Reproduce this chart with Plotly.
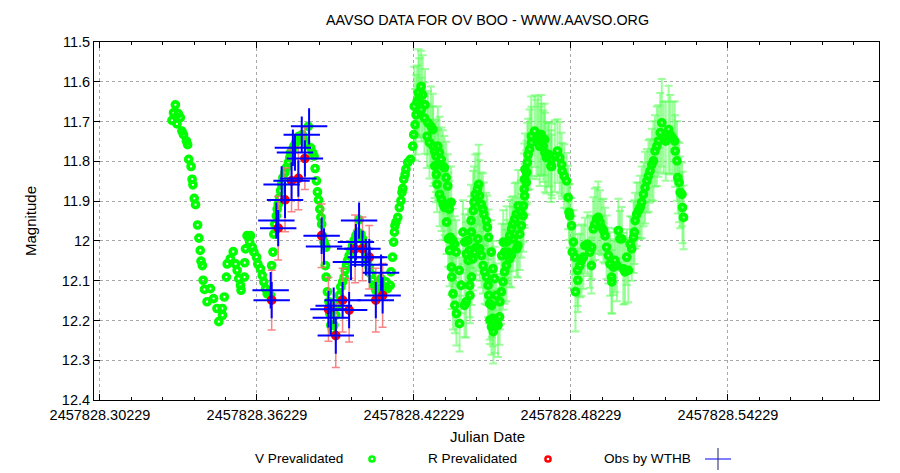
import plotly.graph_objects as go

JD0 = 2457828.0

# ---- V band, early part (small errors, not drawn) ----
V_EARLY_JD = [
0.3311,0.3304,0.3322,0.3298,0.3330,0.3317,0.3336,0.3342,0.3353,0.3358,
0.3362,0.3371,0.3375,0.3378,0.3383,0.3388,0.3396,0.3401,0.3406,0.3409,
0.3414,0.3417,0.3422,0.3432,0.3445,0.3457,0.3470,0.3477,0.3490,0.3491,
0.3498,0.3506,0.3509,0.3521,0.3532,0.3541,0.3547,0.3553,0.3560,0.3562,
0.3575,0.3576,0.3579,0.3585,0.3598,0.3595,0.3605,0.3611,0.3621,0.3626,
0.3636,0.3643,0.3649,0.3656,0.3662,0.3666,0.3675,0.3679,0.3684,0.3687,
0.3691,0.3697,0.3700,0.3704,0.3709,0.3713,0.3717,0.3722,0.3730,0.3735,
0.3743,0.3748,0.3751,0.3758,0.3764,0.3771,0.3777,0.3783,0.3796,0.3802,
0.3809,0.3819,0.3828,0.3835,0.3841,0.3845,0.3850,0.3854,0.3858,0.3863,
0.3867,0.3870,0.3873,0.3879,0.3883,0.3886,0.3884,0.3887,0.3892,0.3898,
0.3901,0.3905,0.3911,0.3917,0.3924,0.3931,0.3937,0.3943,0.3950,0.3956,
0.3960,0.3965,0.3969,0.3975,0.3982,0.3988,0.3994,0.4001,0.4007,0.4013,
0.4020,0.4026,0.4033,0.4039,0.4046,0.4052,0.4058,0.4065,0.4071,0.4077,
0.4084,0.4097,0.4103,0.4109,0.4116,0.4122,0.4132,0.4135,0.4141,0.4145,
0.4148,0.4150,0.4154,0.4161,0.4167,0.4173,0.4177,0.4180,0.4184,0.4189,
0.4192,0.4199,0.4209,0.4218,0.4222]
V_EARLY_MAG = [
11.658,11.678,11.680,11.697,11.690,11.706,11.724,11.733,11.749,11.758,
11.795,11.813,11.845,11.859,11.893,11.909,11.960,11.993,12.024,12.051,
12.062,12.099,12.122,12.153,12.120,12.145,12.170,12.203,12.170,12.187,
12.141,12.091,12.058,12.045,12.027,12.058,12.074,12.095,12.112,12.124,
12.091,12.055,12.020,11.987,11.987,12.003,12.016,12.028,12.041,12.058,
12.070,12.087,12.103,12.120,12.133,12.130,12.137,12.062,12.028,11.983,
11.958,11.937,11.920,11.908,11.891,11.874,11.858,11.841,11.828,11.816,
11.803,11.791,11.778,11.770,11.762,11.753,11.749,11.737,11.733,11.745,
11.753,11.712,11.766,11.778,11.787,11.818,11.849,11.877,11.897,11.920,
11.941,11.958,11.987,12.003,12.012,12.016,12.062,12.091,12.128,12.153,
12.183,12.212,12.224,12.212,12.187,12.162,12.137,12.116,12.103,12.091,
12.074,12.062,12.049,12.037,12.024,12.012,11.999,11.987,11.978,11.947,
11.983,11.995,12.012,12.033,12.049,12.066,12.083,12.099,12.112,12.124,
12.108,12.095,12.124,12.116,12.103,12.120,12.112,12.078,12.041,12.003,
11.978,11.962,11.953,11.941,11.916,11.899,11.878,11.868,11.845,11.833,
11.820,11.803,11.795,11.762,11.733]

# ---- V band, later part (large errors) ----
V_LATE_JD = [
0.4227,0.4231,0.4224,0.4235,0.4240,0.4243,0.4250,0.4256,0.4251,0.4265,
0.4263,0.4276,0.4288,0.4295,0.4273,0.4282,0.4296,0.4301,0.4307,0.4314,
0.4320,0.4302,0.4308,0.4315,0.4327,0.4333,0.4339,0.4346,0.4311,0.4321,
0.4328,0.4334,0.4340,0.4352,0.4353,0.4358,0.4365,0.4347,0.4354,0.4362,
0.4371,0.4378,0.4359,0.4384,0.4366,0.4367,0.4372,0.4379,0.4385,0.4397,
0.4396,0.4403,0.4416,0.4422,0.4410,0.4417,0.4429,0.4435,0.4423,0.4430,
0.4442,0.4448,0.4443,0.4436,0.4437,0.4441,0.4449,0.4452,0.4457,0.4465,
0.4470,0.4473,0.4480,0.4486,0.4490,0.4499,0.4503,0.4508,0.4467,0.4461,
0.4474,0.4454,0.4481,0.4487,0.4493,0.4500,0.4506,0.4509,0.4512,0.4518,
0.4525,0.4531,0.4513,0.4519,0.4526,0.4532,0.4520,0.4524,0.4544,0.4550,
0.4537,0.4551,0.4557,0.4563,0.4569,0.4576,0.4558,0.4570,0.4564,0.4577,
0.4582,0.4588,0.4595,0.4589,0.4596,0.4601,0.4602,0.4608,0.4614,0.4621,
0.4615,0.4620,0.4627,0.4633,0.4640,0.4631,0.4641,0.4646,0.4644,0.4652,
0.4645,0.4653,0.4647,0.4656,0.4659,0.4665,0.4672,0.4671,0.4684,0.4691,
0.4697,0.4710,0.4703,0.4717,0.4723,0.4729,0.4736,0.4746,0.4709,0.4722,
0.4738,0.4748,0.4749,0.4761,0.4771,0.4780,0.4787,0.4789,0.4797,0.4806,
0.4812,0.4815,0.4818,0.4825,0.4832,0.4828,0.4838,0.4848,0.4849,0.4840,
0.4857,0.4863,0.4870,0.4876,0.4886,0.4895,0.4902,0.4901,0.4908,0.4914,
0.4921,0.4927,0.4934,0.4940,0.4947,0.4953,0.4959,0.4966,0.4972,0.4978,
0.4979,0.4985,0.4991,0.4998,0.5004,0.5010,0.5017,0.5023,0.5029,0.5036,
0.5042,0.5049,0.5055,0.5062,0.5065,0.5068,0.5074,0.5081,0.5087,0.5093,
0.5100,0.5106,0.5113,0.5119,0.5125,0.5132,0.5138,0.5144,0.5151,0.5157,
0.5164,0.5170,0.5177,0.5185,0.5196,0.5202,0.5211,0.5219,0.5221,0.5228,
0.5231,0.5236,0.5240,0.5247,0.5249,0.5253]
V_LATE_MAG = [
11.708,11.683,11.662,11.649,11.628,11.641,11.612,11.633,11.670,11.658,
11.691,11.703,11.712,11.720,11.737,11.753,11.762,11.774,11.787,11.762,
11.778,11.812,11.833,11.808,11.795,11.812,11.816,11.841,11.858,11.883,
11.895,11.908,11.916,11.862,11.908,11.920,11.903,11.953,11.995,11.991,
11.999,12.008,12.024,12.028,12.066,12.091,12.133,12.162,12.183,12.208,
12.074,12.112,12.162,12.153,11.978,12.003,11.999,12.024,12.033,12.049,
11.978,12.045,12.091,12.112,12.137,11.949,11.924,11.903,11.883,11.870,
11.858,11.887,11.908,11.920,11.933,11.949,11.966,11.991,11.995,12.016,
12.020,12.028,12.037,12.062,12.078,12.091,12.112,12.137,12.158,12.028,
12.070,12.095,12.199,12.216,12.228,12.212,12.162,12.195,12.212,12.191,
12.137,12.153,12.128,12.103,12.078,12.062,12.037,12.028,12.003,12.003,
12.028,12.045,12.037,11.987,11.970,11.958,11.995,11.945,11.933,11.912,
12.020,12.012,11.983,11.962,11.937,11.928,11.912,11.887,11.870,11.853,
11.845,11.828,11.820,11.803,11.783,11.770,11.753,11.737,11.724,11.745,
11.737,11.745,11.762,11.762,11.778,11.791,11.783,11.812,11.733,11.745,
11.783,11.795,11.813,11.787,11.774,11.791,11.808,11.824,11.837,11.849,
11.891,11.928,11.937,11.962,12.003,12.028,12.041,12.074,12.099,12.128,
12.062,12.049,12.041,12.012,12.008,12.028,12.016,12.062,11.970,11.958,
11.945,11.941,11.953,11.966,11.974,11.987,12.016,12.037,12.058,12.091,
12.103,12.066,12.049,12.062,11.974,11.995,11.995,12.070,12.078,12.041,
12.074,12.008,12.020,11.991,11.978,11.949,11.933,11.924,11.916,11.903,
11.883,11.866,11.849,11.837,11.824,11.808,11.799,11.774,11.762,11.749,
11.728,11.703,11.741,11.749,11.720,11.733,11.741,11.749,11.774,11.799,
11.841,11.853,11.878,11.883,11.916,11.941]
V_LATE_ERR = [
0.09,0.10,0.10,0.09,0.11,0.10,0.09,0.10,0.08,0.09,
0.09,0.08,0.10,0.09,0.08,0.09,0.10,0.08,0.09,0.10,
0.09,0.08,0.07,0.09,0.08,0.09,0.08,0.09,0.07,0.08,
0.08,0.09,0.07,0.08,0.08,0.07,0.09,0.08,0.07,0.08,
0.08,0.07,0.09,0.08,0.07,0.08,0.09,0.07,0.08,0.07,
0.08,0.07,0.08,0.09,0.08,0.07,0.08,0.09,0.08,0.07,
0.09,0.08,0.07,0.08,0.07,0.09,0.10,0.09,0.10,0.09,
0.10,0.09,0.08,0.09,0.08,0.07,0.08,0.07,0.08,0.07,
0.08,0.07,0.08,0.07,0.08,0.07,0.08,0.07,0.09,0.08,
0.07,0.08,0.06,0.07,0.08,0.07,0.08,0.07,0.08,0.07,
0.08,0.07,0.08,0.07,0.08,0.09,0.08,0.07,0.08,0.09,
0.08,0.07,0.08,0.09,0.08,0.07,0.08,0.09,0.08,0.09,
0.07,0.08,0.09,0.08,0.09,0.08,0.09,0.08,0.09,0.08,
0.09,0.08,0.09,0.10,0.09,0.10,0.09,0.10,0.09,0.10,
0.10,0.09,0.10,0.09,0.10,0.09,0.08,0.09,0.10,0.09,
0.08,0.09,0.08,0.09,0.08,0.09,0.08,0.07,0.08,0.07,
0.08,0.07,0.08,0.07,0.08,0.09,0.08,0.09,0.08,0.10,
0.08,0.09,0.08,0.07,0.08,0.09,0.08,0.07,0.08,0.09,
0.08,0.09,0.08,0.07,0.08,0.07,0.08,0.07,0.08,0.09,
0.08,0.07,0.08,0.09,0.08,0.07,0.08,0.09,0.08,0.07,
0.08,0.07,0.08,0.09,0.08,0.07,0.08,0.07,0.08,0.09,
0.08,0.09,0.08,0.09,0.08,0.09,0.10,0.09,0.10,0.09,
0.10,0.11,0.09,0.10,0.11,0.10,0.09,0.10,0.09,0.10,
0.09,0.10,0.09,0.08,0.09,0.08]

# ---- R band ----
R_JD = [0.3679,0.3704,0.3730,0.3755,0.3781,0.3806,0.3870,0.3896,
        0.3924,0.3950,0.3975,0.3998,0.4026,0.4052,0.4077,0.4103]
R_MAG = [12.149,11.968,11.897,11.849,11.843,11.793,11.987,12.172,
         12.238,12.149,12.174,12.020,12.020,12.041,12.149,12.137]
R_ERR = [0.075,0.080,0.080,0.078,0.079,0.078,0.080,0.080,
         0.080,0.080,0.080,0.085,0.080,0.080,0.080,0.080]

# ---- Observations by WTHB ----
W_JD = [0.3675,0.3679,0.3697,0.3704,0.3717,0.3730,0.3760,0.3755,0.3768,
        0.3781,0.3794,0.3806,0.3822,0.3870,0.3879,0.3896,0.3924,0.3916,
        0.3905,0.3950,0.3975,0.3982,0.3998,0.4001,0.4013,0.4026,0.4039,
        0.4052,0.4053,0.4077,0.4097,0.4103]
W_MAG = [12.124,12.149,11.949,11.968,11.858,11.897,11.766,11.849,11.778,
         11.843,11.733,11.793,11.712,11.987,12.014,12.172,12.238,12.163,
         12.193,12.149,12.174,12.053,12.020,12.003,11.949,12.020,12.041,
         12.041,12.060,12.149,12.080,12.137]

assert len(V_EARLY_JD) == len(V_EARLY_MAG)
assert len(V_LATE_JD) == len(V_LATE_MAG) == len(V_LATE_ERR)
assert len(W_JD) == len(W_MAG)

X_TICKS = [0.30229, 0.36229, 0.42229, 0.48229, 0.54229]
Y_TICKS = [11.5, 11.6, 11.7, 11.8, 11.9, 12.0, 12.1, 12.2, 12.3, 12.4]
Y_TICK_TEXT = ["11.5", "11.6", "11.7", "11.8", "11.9", "12", "12.1", "12.2", "12.3", "12.4"]

FONT = "Liberation Sans, Arial, sans-serif"
GREEN = "#00ff00"
RED = "#ff0000"
BLUE = "#0000ff"

ring_marker = lambda c: dict(symbol="circle-open", size=6, color=c, line=dict(width=3.7, color=c))

fig = go.Figure()

fig.add_trace(go.Scatter(
    x=[JD0 + v for v in V_LATE_JD], y=V_LATE_MAG, mode="markers",
    name="V Prevalidated", showlegend=False,
    error_y=dict(type="data", array=V_LATE_ERR, visible=True,
                 color="rgba(90,255,90,0.6)", thickness=2, width=4),
    marker=ring_marker(GREEN)))

fig.add_trace(go.Scatter(
    x=[JD0 + v for v in V_EARLY_JD], y=V_EARLY_MAG, mode="markers",
    name="V Prevalidated", showlegend=False,
    marker=ring_marker(GREEN)))

fig.add_trace(go.Scatter(
    x=[JD0 + v for v in R_JD], y=R_MAG, mode="markers",
    name="R Prevalidated", showlegend=False,
    error_y=dict(type="data", array=R_ERR, visible=True,
                 color="rgba(245,110,110,0.85)", thickness=1.5, width=4),
    marker=ring_marker(RED)))

fig.add_trace(go.Scatter(
    x=[JD0 + v for v in W_JD], y=W_MAG, mode="markers",
    name="Obs by WTHB", showlegend=False,
    marker=dict(symbol="cross-thin", size=26, color=BLUE, line=dict(width=2, color=BLUE))))

axis_common = dict(showline=True, linecolor="black", linewidth=1, mirror="allticks",
                   ticks="inside", tickcolor="black", ticklen=6, showgrid=True,
                   gridcolor="#a8a8a8", griddash="dot", gridwidth=1, zeroline=False,
                   tickfont=dict(family=FONT, size=14.5, color="black"))

fig.update_xaxes(range=[JD0 + 0.30, JD0 + 0.60],
                 tickvals=[JD0 + t for t in X_TICKS],
                 ticktext=["%.5f" % (JD0 + t) for t in X_TICKS],
                 ticklabelstandoff=2,
                 minor=dict(ticks="inside", ticklen=3, tickcolor="black",
                            tickvals=[JD0 + 0.30229 + 0.012 * k for k in range(-1, 25)],
                            showgrid=False),
                 **axis_common)
fig.update_yaxes(range=[12.4, 11.5], tickvals=Y_TICKS, ticktext=Y_TICK_TEXT, **axis_common)

# The page adds an 8 px body margin, so the figure is laid out 8 px up/left.
OFF = 8
W, H = 900 - OFF, 473 - OFF
L, T = 94 - OFF, 42 - OFF
PW, PH = 785, 358
R, B = W - L - PW, H - T - PH

def px(x):
    return (x - OFF - L) / PW

def py(y):
    return (T + PH - (y - OFF)) / PH

def label(text, x, y, size, anchor="center", angle=0):
    return dict(text=text, x=px(x), y=py(y), xref="paper", yref="paper", textangle=angle,
                showarrow=False, xanchor=anchor, yanchor="middle",
                font=dict(family=FONT, size=size, color="black"))

annotations = [
    label("AAVSO DATA FOR OV BOO - WWW.AAVSO.ORG", 487, 20, 14.3),
    label("Julian Date", 487, 436, 15),
    label("Magnitude", 30, 221, 15, angle=-90),
    label("V Prevalidated", 345, 459, 13.6, anchor="right"),
    label("R Prevalidated", 519, 459, 13.6, anchor="right"),
    label("Obs by WTHB", 693, 459, 13.6, anchor="right"),
]

def ring(cx, cy, color):
    return dict(type="circle", xref="paper", yref="paper", xsizemode="pixel", ysizemode="pixel",
                xanchor=px(cx), yanchor=py(cy), x0=-2.6, x1=2.6, y0=-2.6, y1=2.6,
                line=dict(color=color, width=2.5), fillcolor="white")

shapes = [
    ring(372, 459, GREEN),
    ring(548, 459, RED),
    dict(type="line", xref="paper", yref="paper", xsizemode="pixel", ysizemode="pixel",
         xanchor=px(718), yanchor=py(459), x0=-13, x1=13, y0=0, y1=0, line=dict(color=BLUE, width=1)),
    dict(type="line", xref="paper", yref="paper", xsizemode="pixel", ysizemode="pixel",
         xanchor=px(718), yanchor=py(459), x0=0, x1=0, y0=-11, y1=11, line=dict(color="#202060", width=1)),
]

fig.update_layout(width=W, height=H, margin=dict(l=L, r=R, t=T, b=B, autoexpand=False),
                  paper_bgcolor="white", plot_bgcolor="white", showlegend=False,
                  annotations=annotations, shapes=shapes,
                  font=dict(family=FONT, size=13, color="black"))

fig.write_html("out.html")
